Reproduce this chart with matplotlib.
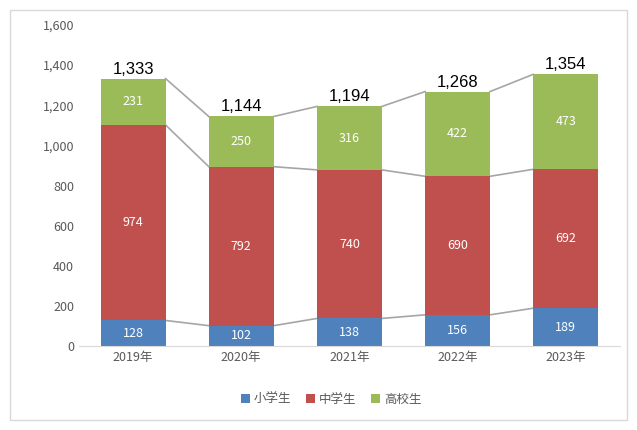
import matplotlib.pyplot as plt
import matplotlib.patches as mpatches

plt.rcParams['font.family'] = ['Noto Sans CJK JP', 'DejaVu Sans']

years = ["2019年", "2020年", "2021年", "2022年", "2023年"]
elem = [128, 102, 138, 156, 189]
junior = [974, 792, 740, 690, 692]
high = [231, 250, 316, 422, 473]
totals = [1333, 1144, 1194, 1268, 1354]
names = ["小学生", "中学生", "高校生"]
colors = ["#4F81BD", "#C0504D", "#9BBB59"]

fig = plt.figure(figsize=(6.37, 4.30), dpi=100)
fig.patches.append(mpatches.Rectangle((0.016, 0.023), 0.968, 0.954, transform=fig.transFigure,
                                      fill=False, edgecolor="#D9D9D9", lw=1))
ax = fig.add_axes([0.124, 0.195, 0.849, 0.747])

x = list(range(len(years)))
w = 0.6
bottom = [0] * len(x)
for vals, name, c in zip([elem, junior, high], names, colors):
    ax.bar(x, vals, w, bottom=bottom, color=c, label=name)
    for i, v in enumerate(vals):
        ax.text(i, bottom[i] + v / 2, str(v), ha="center", va="center", color="white", fontsize=9)
    bottom = [b + v for b, v in zip(bottom, vals)]
    # series lines
    for i in range(len(x) - 1):
        ax.plot([i + w / 2, i + 1 - w / 2], [bottom[i], bottom[i + 1]], color="#A6A6A6", lw=1.2, zorder=0)

for i, t in enumerate(totals):
    ax.text(i, t + 10, f"{t:,}", ha="center", va="bottom", fontsize=12, color="black",
            family="Liberation Sans")

ax.set_xlim(-0.5, 4.5)
ax.set_ylim(0, 1600)
ax.set_yticks(range(0, 1601, 200))
ax.set_yticklabels([f"{v:,}" for v in range(0, 1601, 200)])
ax.set_xticks(x)
ax.set_xticklabels(years)
ax.tick_params(colors="#595959", labelsize=9, length=0)
for s in ["top", "right", "left"]:
    ax.spines[s].set_visible(False)
ax.spines["bottom"].set_color("#D9D9D9")

fig.legend(loc="lower center", bbox_to_anchor=(0.52, 0.03), ncol=3, frameon=False,
           fontsize=9, handlelength=0.7, handleheight=0.7, columnspacing=1.2, handletextpad=0.3,
           labelcolor="#595959")

fig.savefig("out.png", dpi=100)
